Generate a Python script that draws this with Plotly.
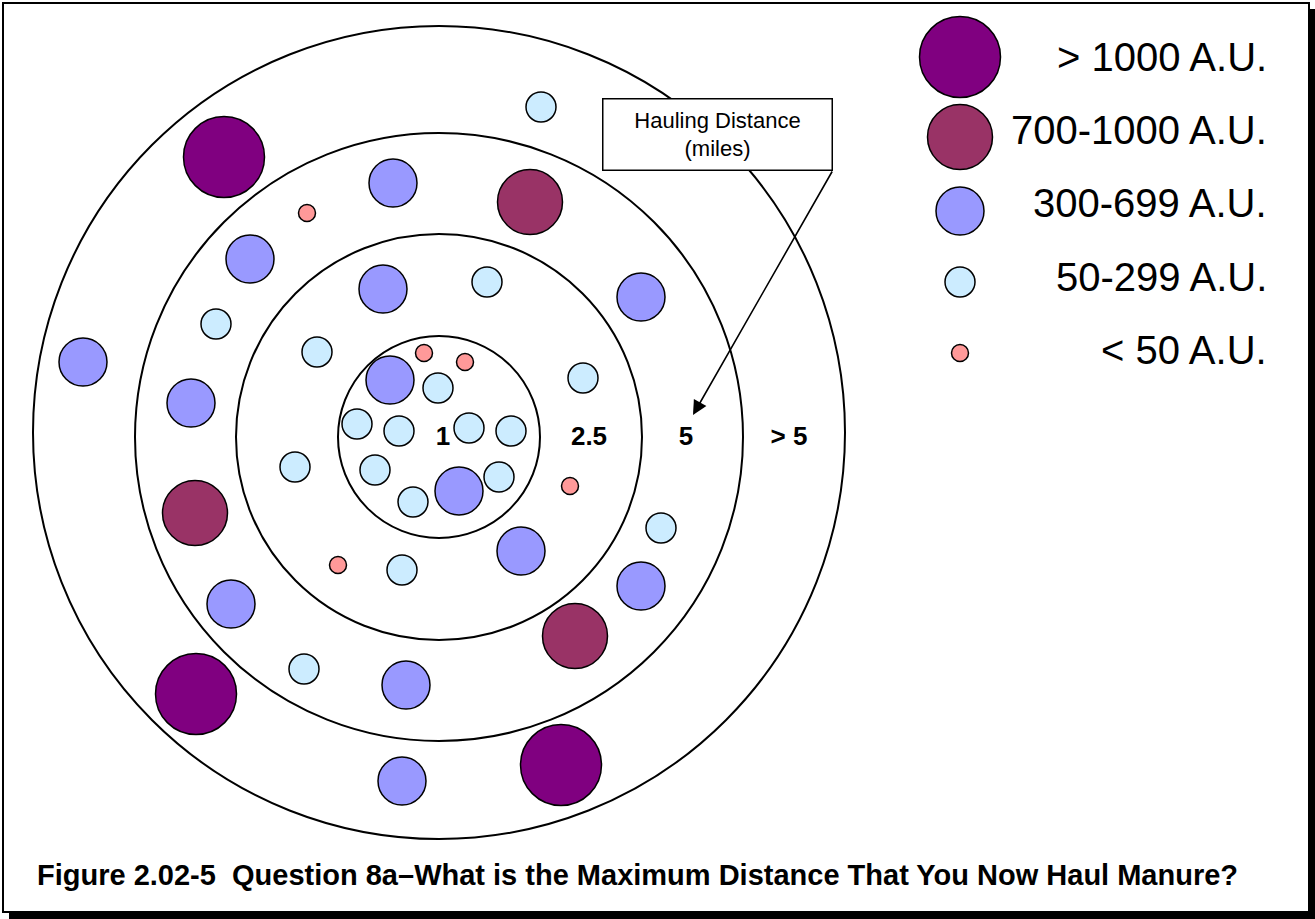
import plotly.graph_objects as go

# ---------------- data ----------------
categories = ["> 1000 A.U.", "700-1000 A.U.", "300-699 A.U.", "50-299 A.U.", "< 50 A.U."]

over1000_x = [224, 196, 561]
over1000_y = [157, 694, 765]

a700_1000_x = [530, 195, 575]
a700_1000_y = [202, 513, 636]

a300_699_x = [393, 250, 383, 641, 83, 191, 390, 459, 521, 641, 231, 406, 402]
a300_699_y = [183, 259, 289, 297, 362, 403, 380, 491, 551, 586, 604, 685, 781]

a50_299_x = [541, 487, 216, 317, 438, 583, 357, 399, 469, 511, 295, 375, 499, 413, 661, 402, 304]
a50_299_y = [107, 282, 324, 352, 388, 378, 424, 431, 428, 431, 467, 470, 477, 502, 528, 570, 669]

under50_x = [307, 424, 465, 570, 338]
under50_y = [213, 353, 362, 486, 565]

ring_labels = ["1", "2.5", "5", "> 5"]
box_text = "Hauling Distance<br>(miles)"
caption = "Figure 2.02-5  Question 8a\u2013What is the Maximum Distance That You Now Haul Manure?"

# ---------------- layout / style constants ----------------
W, H = 1315, 919
CX, CY = 439, 437
ring_r = [101, 203, 304]
outer_ring = (33, 26, 845, 839)
ring_label_x = [443, 589, 686, 789]
ring_label_y = 438

colors = ["#800080", "#993366", "#9999FF", "#CCECFF", "#FF9999"]
sizes = [81, 65, 48, 30, 17]
series = [
    (over1000_x, over1000_y),
    (a700_1000_x, a700_1000_y),
    (a300_699_x, a300_699_y),
    (a50_299_x, a50_299_y),
    (under50_x, under50_y),
]
legend_marker_x = 960
legend_marker_y = [57, 137, 211, 282, 353]
legend_text_x = 1269
legend_text_y = [57, 130, 203, 277, 350]

FONT = "Liberation Sans, Arial, sans-serif"

fig = go.Figure()

# bubbles
for name, (xs, ys), c, s in zip(categories, series, colors, sizes):
    fig.add_trace(go.Scatter(
        x=xs, y=ys, mode="markers", name=name,
        marker=dict(size=s, color=c, line=dict(color="black", width=1.5), opacity=1),
        hoverinfo="skip", showlegend=False,
    ))

# custom legend markers
fig.add_trace(go.Scatter(
    x=[legend_marker_x] * len(categories), y=legend_marker_y, mode="markers",
    marker=dict(size=sizes, color=colors, line=dict(color="black", width=1.5), opacity=1),
    hoverinfo="skip", showlegend=False,
))

# ring labels
fig.add_trace(go.Scatter(
    x=ring_label_x, y=[ring_label_y] * len(ring_labels), mode="text",
    text=["<b>%s</b>" % t for t in ring_labels],
    textfont=dict(family=FONT, size=26, color="black"),
    textposition="middle center", hoverinfo="skip", showlegend=False,
))

shapes = []
# concentric rings
for r in ring_r:
    shapes.append(dict(type="circle", xref="x", yref="y", x0=CX - r, x1=CX + r,
                       y0=CY - r, y1=CY + r, line=dict(color="black", width=2),
                       layer="below"))
shapes.append(dict(type="circle", xref="x", yref="y", x0=outer_ring[0], y0=outer_ring[1],
                   x1=outer_ring[2], y1=outer_ring[3], line=dict(color="black", width=2),
                   layer="below"))
# frame + shadow
shapes.append(dict(type="rect", xref="x", yref="y", x0=3, y0=3, x1=1309, y1=912,
                   line=dict(color="black", width=2), layer="below"))
shapes.append(dict(type="rect", xref="x", yref="y", x0=1310, y0=9, x1=1315, y1=919,
                   fillcolor="black", line=dict(width=0), layer="above"))
shapes.append(dict(type="rect", xref="x", yref="y", x0=9, y0=913, x1=1315, y1=919,
                   fillcolor="black", line=dict(width=0), layer="above"))

annotations = []
# legend labels
for t, ty in zip(categories, legend_text_y):
    annotations.append(dict(x=legend_text_x, y=ty, xref="x", yref="y", text=t,
                            showarrow=False, xanchor="right", yanchor="middle",
                            font=dict(family=FONT, size=40, color="black")))
# arrow from box corner
annotations.append(dict(x=693, y=415, ax=833, ay=170, xref="x", yref="y",
                        axref="x", ayref="y", text="", showarrow=True,
                        arrowhead=2, arrowsize=1.8, arrowwidth=1.6, arrowcolor="black",
                        standoff=0, startstandoff=0))
# callout box
annotations.append(dict(x=717, y=134, xref="x", yref="y", text=box_text,
                        showarrow=False, xanchor="center", yanchor="middle",
                        width=226, height=68, bgcolor="white", bordercolor="black",
                        borderwidth=1.5, borderpad=1,
                        font=dict(family=FONT, size=22, color="black")))
# caption
annotations.append(dict(x=35, y=875, xref="x", yref="y", text="<b>%s</b>" % caption,
                        showarrow=False, xanchor="left", yanchor="middle",
                        font=dict(family=FONT, size=29, color="black")))

fig.update_layout(
    width=W, height=H, margin=dict(l=0, r=0, t=0, b=0),
    paper_bgcolor="white", plot_bgcolor="white",
    xaxis=dict(range=[0, W], visible=False, fixedrange=True),
    yaxis=dict(range=[H, 0], visible=False, fixedrange=True),
    shapes=shapes, annotations=annotations, showlegend=False, hovermode=False,
)

fig.write_html("out.html", config={"displayModeBar": False},
               post_script="document.body.style.margin='0';document.body.style.overflow='hidden';")
